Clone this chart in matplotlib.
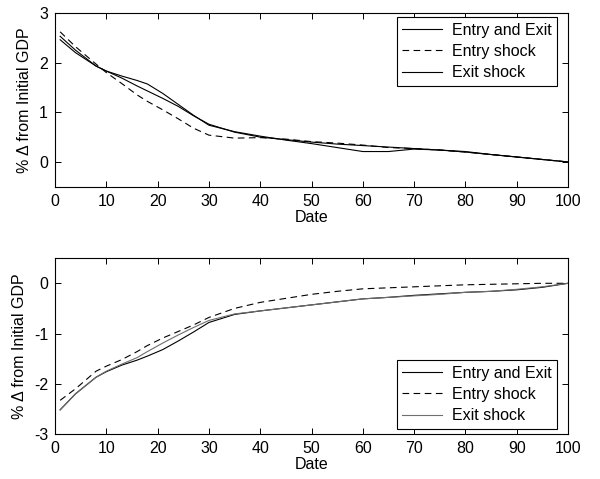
import matplotlib
matplotlib.use('Agg')
from matplotlib import pyplot as plt

plt.rcParams['font.family'] = ['Liberation Sans', 'DejaVu Sans']
plt.rcParams['font.size'] = 11.5
plt.rcParams['axes.unicode_minus'] = False

# dates
date = [1, 4, 8, 10, 13, 16, 18, 21, 24, 27, 30, 35, 40, 45, 50,
        55, 60, 65, 70, 75, 80, 85, 90, 95, 100]

# top panel
top_both = [2.53, 2.25, 1.93, 1.83, 1.73, 1.64, 1.57, 1.38, 1.16, 0.94, 0.74, 0.61, 0.52, 0.44, 0.37,
            0.29, 0.21, 0.21, 0.26, 0.24, 0.20, 0.15, 0.10, 0.05, 0.0]
top_entry = [2.62, 2.32, 1.97, 1.80, 1.58, 1.35, 1.22, 1.05, 0.87, 0.68, 0.54, 0.48, 0.49, 0.46, 0.41,
             0.38, 0.34, 0.29, 0.27, 0.24, 0.20, 0.15, 0.10, 0.05, 0.0]
top_exit = [2.46, 2.20, 1.93, 1.83, 1.69, 1.53, 1.43, 1.28, 1.12, 0.93, 0.76, 0.60, 0.50, 0.45, 0.40,
            0.36, 0.33, 0.30, 0.27, 0.24, 0.21, 0.15, 0.10, 0.05, 0.0]

# bottom panel
bot_both = [-2.52, -2.20, -1.87, -1.76, -1.63, -1.53, -1.45, -1.32, -1.15, -0.97, -0.78, -0.62, -0.55, -0.49, -0.43,
            -0.37, -0.31, -0.28, -0.24, -0.21, -0.18, -0.16, -0.13, -0.08, 0.0]
bot_entry = [-2.33, -2.10, -1.75, -1.65, -1.52, -1.36, -1.24, -1.09, -0.96, -0.83, -0.68, -0.50, -0.38, -0.30, -0.22,
             -0.16, -0.11, -0.09, -0.07, -0.05, -0.03, -0.02, -0.01, 0.0, 0.0]
bot_exit = [-2.52, -2.20, -1.87, -1.75, -1.61, -1.48, -1.36, -1.19, -1.03, -0.88, -0.74, -0.61, -0.55, -0.49, -0.43,
            -0.37, -0.31, -0.28, -0.25, -0.22, -0.18, -0.16, -0.12, -0.07, 0.0]

labels = ['Entry and Exit', 'Entry shock', 'Exit shock']

fig = plt.figure(figsize=(6, 4.79), dpi=100)
ax1 = fig.add_axes([0.0917, 0.610, 0.855, 0.363])
ax2 = fig.add_axes([0.0917, 0.094, 0.855, 0.367])

lw = 0.8
ax1.plot(date, top_both, color='black', lw=lw, label=labels[0])
ax1.plot(date, top_entry, color='black', lw=lw, ls=(0, (6, 4)), label=labels[1])
ax1.plot(date, top_exit, color='black', lw=lw, label=labels[2])

ax2.plot(date, bot_both, color='black', lw=lw, label=labels[0])
ax2.plot(date, bot_entry, color='black', lw=lw, ls=(0, (6, 4)), label=labels[1])
ax2.plot(date, bot_exit, color='#6e6e6e', lw=lw, label=labels[2])

for ax in (ax1, ax2):
    ax.set_xlim(0, 100)
    ax.set_xticks(range(0, 101, 10))
    ax.tick_params(direction='in', top=True, right=True, length=4, width=0.7, pad=5)
    for s in ax.spines.values():
        s.set_linewidth(0.8)
    ax.set_xlabel('Date', labelpad=1)
    ax.set_ylabel('% \u0394 from Initial GDP', labelpad=5)

ax1.set_ylim(-0.5, 3)
ax1.set_yticks([0, 1, 2, 3])
ax2.set_ylim(-3, 0.5)
ax2.set_yticks([-3, -2, -1, 0])

leg_kw = dict(fancybox=False, edgecolor='black', framealpha=1, borderaxespad=0,
              handlelength=2.5, handletextpad=0.6, labelspacing=0.4, borderpad=0.35)
l1 = ax1.legend(loc='upper right', bbox_to_anchor=(0.979, 0.977), **leg_kw)
l2 = ax2.legend(loc='lower right', bbox_to_anchor=(0.979, 0.028), **leg_kw)
for l in (l1, l2):
    l.get_frame().set_linewidth(0.8)

fig.savefig('out.png', dpi=100)
